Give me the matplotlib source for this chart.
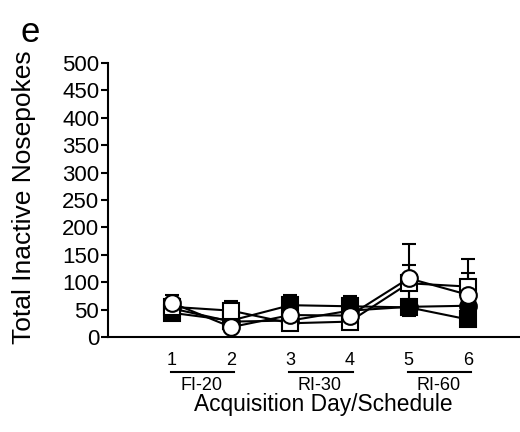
import matplotlib.pyplot as plt
import matplotlib.transforms as mtransforms
import numpy as np

plt.rcParams['font.family'] = ['Liberation Sans', 'DejaVu Sans']

days = [1, 2, 3, 4, 5, 6]
schedules = ["FI-20", "RI-30", "RI-60"]

# group means and error
filled_sq = [44, 30, 58, 56, 54, 32]
filled_sq_err = [5, 5, 19, 19, 16, 5]
filled_ci = [52, 28, 30, 48, 55, 57]
filled_ci_err = [5, 5, 5, 5, 5, 5]
open_sq = [55, 48, 25, 28, 98, 92]
open_sq_err = [8, 18, 5, 5, 33, 50]
open_ci = [62, 18, 40, 39, 107, 77]
open_ci_err = [14, 5, 5, 5, 63, 40]

fig = plt.figure(figsize=(5.2, 4.32), dpi=100)
ax = fig.add_axes([0.208, 0.22, 0.792, 0.634])

series = [
    (filled_sq, filled_sq_err, "s", "black", 11),
    (filled_ci, filled_ci_err, "o", "black", 12),
    (open_sq, open_sq_err, "s", "white", 11),
    (open_ci, open_ci_err, "o", "white", 12),
]
for vals, err, mk, fc, ms in series:
    ax.errorbar(days, vals, yerr=err, color="black", lw=1.5, marker=mk,
                markersize=ms, markerfacecolor=fc, markeredgecolor="black",
                markeredgewidth=1.5, capsize=5, elinewidth=1.5, capthick=1.5,
                clip_on=False)

ax.set_xlim(-0.08, 6.88)
ax.set_ylim(0, 500)
ax.set_yticks(np.arange(0, 501, 50))
ax.tick_params(axis="y", labelsize=16, length=5, width=1.5, pad=1.5)
ax.set_xticks(days)
ax.set_xticklabels([str(d) for d in days])
ax.tick_params(axis="x", labelsize=13, length=0, pad=11)
for s in ["top", "right"]:
    ax.spines[s].set_visible(False)
for s in ["left", "bottom"]:
    ax.spines[s].set_linewidth(1.5)

fig.text(24 / 520, 1 - 197 / 432, "Total Inactive Nosepokes", fontsize=19,
         rotation=90, ha="center", va="center")

# schedule groups under day pairs
trans = mtransforms.blended_transform_factory(ax.transData, fig.transFigure)
line_y = 1 - 372 / 432
text_y = 1 - 385 / 432
for i, name in enumerate(schedules):
    x0, x1 = days[2 * i], days[2 * i + 1]
    ax.plot([x0 - 0.02, x1 + 0.05], [line_y, line_y], color="black", lw=1.5,
            transform=trans, clip_on=False)
    ax.text((x0 + x1) / 2, text_y, name, fontsize=13, ha="center", va="center",
            transform=trans)

fig.text(323 / 520, 1 - 404 / 432, "Acquisition Day/Schedule", fontsize=16.4,
         ha="center", va="center")
fig.text(30 / 520, 1 - 33 / 432, "e", fontsize=25, ha="center", va="center")

fig.savefig("out.png", dpi=100)
